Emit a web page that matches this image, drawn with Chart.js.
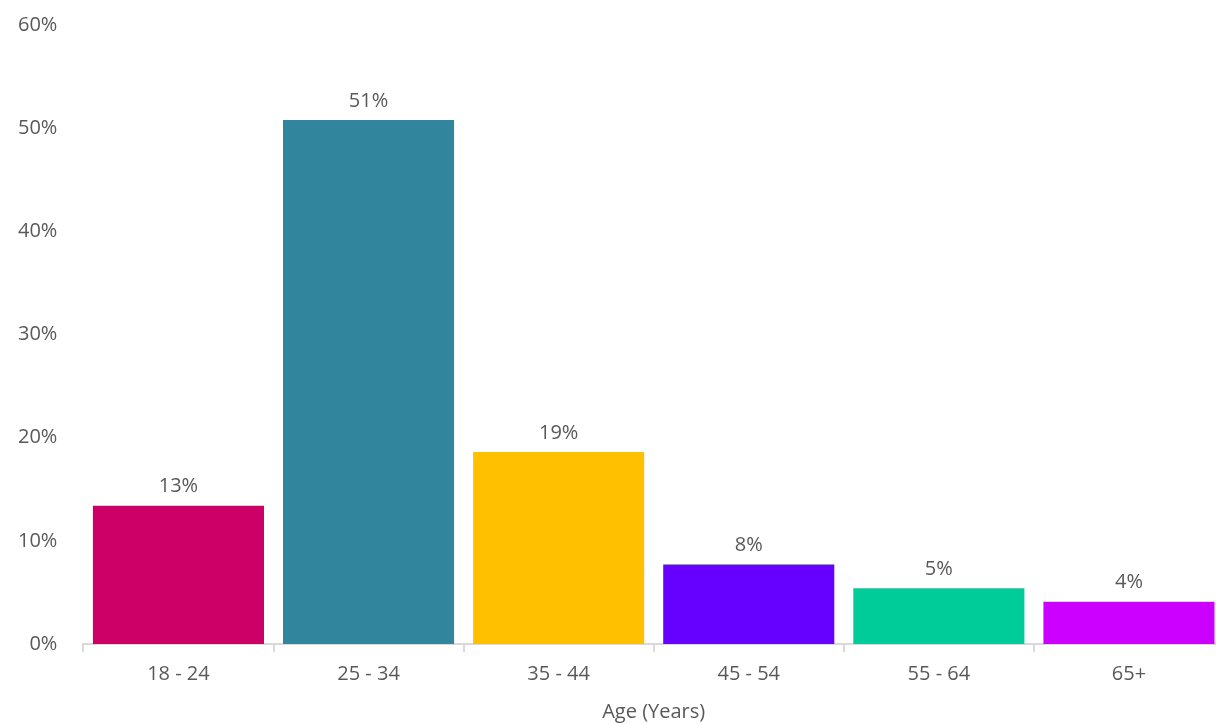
<!DOCTYPE html>
<html>
<head>
<meta charset="utf-8">
<script src="https://cdn.jsdelivr.net/npm/chart.js@4"></script>
<style>
  html, body { margin: 0; padding: 0; background: #fff; overflow: hidden; }
  #wrap { width: 1224px; height: 724px; position: relative; }
</style>
</head>
<body>
<div id="wrap"><canvas id="ageChart"></canvas></div>
<script>
const ageGroups = ['18 - 24', '25 - 34', '35 - 44', '45 - 54', '55 - 64', '65+'];
const shares = [0.134, 0.508, 0.186, 0.077, 0.054, 0.041];
const barColors = ['#CC0066', '#31859C', '#FFC000', '#6600FF', '#00CC99', '#CC00FF'];
const yTicks = [0, 0.1, 0.2, 0.3, 0.4, 0.5, 0.6];

const textColor = '#595959';
const fontFamily = '"Open Sans", "Noto Sans", sans-serif';

// draws the rounded percent above each bar
const barLabels = {
    id: 'barLabels',
    afterDatasetsDraw(chart) {
        const ctx = chart.ctx;
        const meta = chart.getDatasetMeta(0);
        ctx.save();
        ctx.fillStyle = textColor;
        ctx.font = '20px ' + fontFamily;
        ctx.textAlign = 'center';
        ctx.textBaseline = 'bottom';
        meta.data.forEach((bar, i) => {
            ctx.fillText(Math.round(shares[i] * 100) + '%', bar.x, bar.y - 9);
        });
        ctx.restore();
    },
};

new Chart(document.getElementById('ageChart').getContext('2d'), {
    type: 'bar',
    data: {
        labels: ageGroups,
        datasets: [
            {
                data: shares,
                backgroundColor: barColors,
                borderWidth: 0,
                categoryPercentage: 1.0,
                barPercentage: 0.9,
            },
        ],
    },
    options: {
        responsive: true,
        maintainAspectRatio: false,
        animation: false,
        layout: { padding: { top: 0, right: 0, left: 0, bottom: 0 } },
        plugins: { legend: { display: false }, tooltip: { enabled: false } },
        scales: {
            x: {
                grid: {
                    offset: true,
                    drawOnChartArea: false,
                    drawTicks: true,
                    tickLength: 8,
                    color: '#d9d9d9',
                    lineWidth: 2,
                },
                border: { color: '#d9d9d9', width: 2 },
                ticks: { color: textColor, font: { family: fontFamily, size: 20 }, padding: 10 },
                title: {
                    display: true,
                    text: 'Age (Years)',
                    color: textColor,
                    font: { family: fontFamily, size: 20 },
                    padding: { top: 4, bottom: 0 },
                },
            },
            y: {
                min: 0,
                max: 0.6,
                afterBuildTicks(axis) {
                    axis.ticks = yTicks.map((v) => ({ value: v }));
                },
                grid: { display: false },
                border: { display: false },
                ticks: {
                    color: textColor,
                    font: { family: fontFamily, size: 20, lineHeight: 0.7 },
                    padding: 18,
                    callback: (v) => Math.round(v * 100) + '%',
                },
            },
        },
    },
    plugins: [barLabels],
});
</script>
</body>
</html>
